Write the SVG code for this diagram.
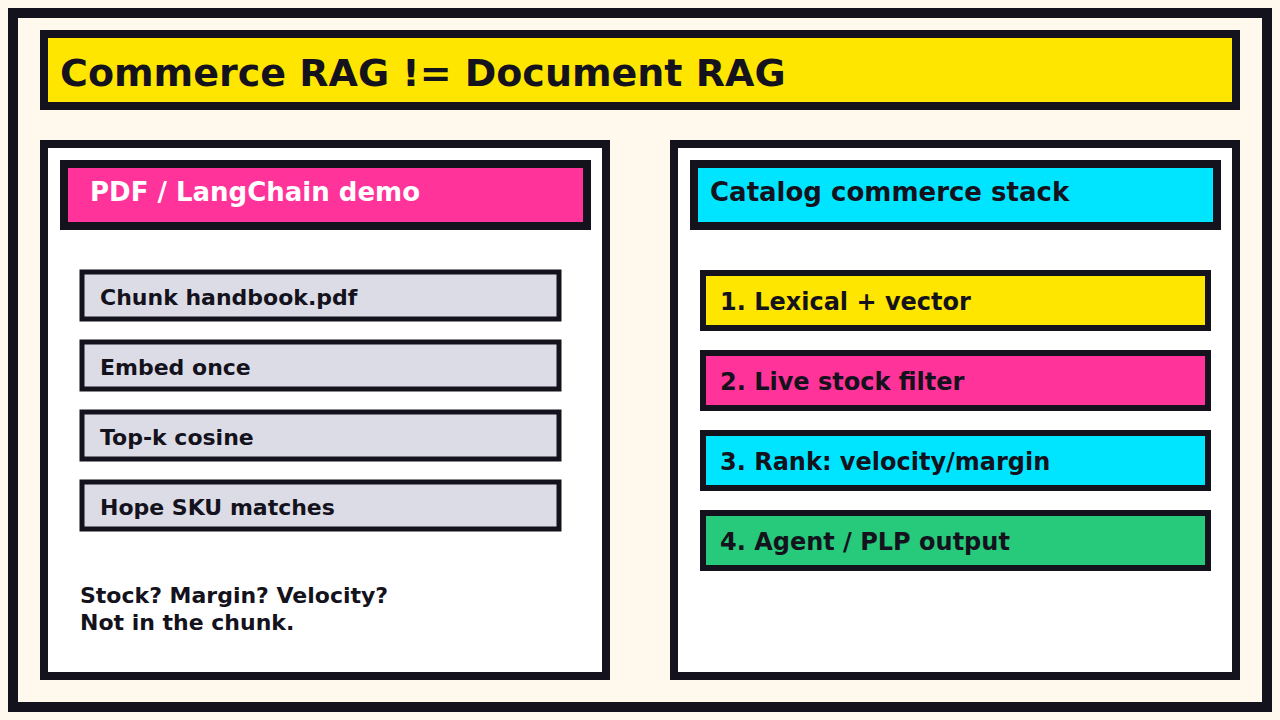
<svg xmlns="http://www.w3.org/2000/svg" width="1280" height="720" viewBox="0 0 1280 720">
<style>
text{font-family:"DejaVu Sans",sans-serif;font-weight:bold;fill:#14121c}
.b{stroke:#14121c}
</style>
<rect x="0" y="0" width="1280" height="720" fill="#fff8ec"/>
<rect class="b" x="13" y="13" width="1254" height="694" fill="#fff8ec" stroke-width="10"/>
<g id="title"><rect class="b" x="44" y="34" width="1192" height="72" fill="#ffe600" stroke-width="8"/>
<text x="60" y="86" font-size="38">Commerce RAG != Document RAG</text></g>
<g id="left">
<rect class="b" x="44" y="144" width="562" height="532" fill="#fff" stroke-width="8"/>
<rect class="b" x="64" y="164" width="523" height="62" fill="#ff3399" stroke-width="8"/>
<text x="90" y="201" font-size="26" style="fill:#fff">PDF / LangChain demo</text>
<g id="l1"><rect class="b" x="82" y="272" width="477" height="47" fill="#dcdce6" stroke-width="5"/><text x="100" y="305" font-size="22">Chunk handbook.pdf</text></g>
<g id="l2"><rect class="b" x="82" y="342" width="477" height="47" fill="#dcdce6" stroke-width="5"/><text x="100" y="375" font-size="22">Embed once</text></g>
<g id="l3"><rect class="b" x="82" y="412" width="477" height="47" fill="#dcdce6" stroke-width="5"/><text x="100" y="445" font-size="22">Top-k cosine</text></g>
<g id="l4"><rect class="b" x="82" y="482" width="477" height="47" fill="#dcdce6" stroke-width="5"/><text x="100" y="515" font-size="22">Hope SKU matches</text></g>
<text x="80" y="603" font-size="22">Stock? Margin? Velocity?</text>
<text x="80" y="630" font-size="22">Not in the chunk.</text>
</g>
<g id="right">
<rect class="b" x="674" y="144" width="562" height="532" fill="#fff" stroke-width="8"/>
<rect class="b" x="694" y="164" width="523" height="62" fill="#00e5ff" stroke-width="8"/>
<text x="710" y="201" font-size="26">Catalog commerce stack</text>
<g id="r1"><rect class="b" x="703" y="273" width="505" height="55" fill="#ffe600" stroke-width="6"/><text x="720" y="310" font-size="24">1. Lexical + vector</text></g>
<g id="r2"><rect class="b" x="703" y="353" width="505" height="55" fill="#ff3399" stroke-width="6"/><text x="720" y="390" font-size="24">2. Live stock filter</text></g>
<g id="r3"><rect class="b" x="703" y="433" width="505" height="55" fill="#00e5ff" stroke-width="6"/><text x="720" y="470" font-size="24">3. Rank: velocity/margin</text></g>
<g id="r4"><rect class="b" x="703" y="513" width="505" height="55" fill="#27c97a" stroke-width="6"/><text x="720" y="550" font-size="24">4. Agent / PLP output</text></g>
</g>
<g id="connectors"/>
</svg>
